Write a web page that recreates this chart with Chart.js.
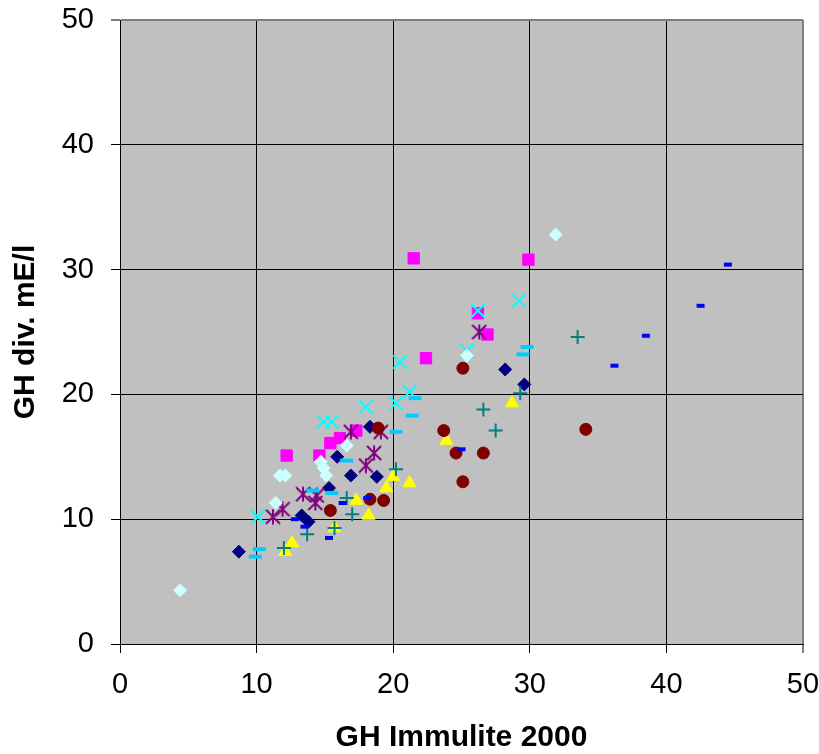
<!DOCTYPE html>
<html>
<head>
<meta charset="utf-8">
<script src="https://cdn.jsdelivr.net/npm/chart.js@4/dist/chart.umd.min.js"></script>
<style>
html, body { margin: 0; padding: 0; background: #fff; }
</style>
</head>
<body>
<canvas id="chart" width="819" height="754"></canvas>
<script>
// axis ticks
const xTicks = [0, 10, 20, 30, 40, 50];
const yTicks = [0, 10, 20, 30, 40, 50];

// one array pair per sample group: Immulite value (x) vs. other assay (y)
const navyX = [8.7, 13.3, 13.8, 15.3, 15.9, 16.9, 18.3, 18.8, 28.2, 29.6];
const navyY = [7.4, 10.3, 9.8, 12.5, 15.0, 13.5, 17.4, 13.4, 22.0, 20.8];

const magentaX = [12.2, 14.6, 15.4, 16.1, 17.3, 21.5, 22.4, 26.2, 26.9, 29.9];
const magentaY = [15.1, 15.1, 16.1, 16.5, 17.1, 30.9, 22.9, 26.5, 24.8, 30.8];

const yellowX = [12.1, 12.6, 15.7, 17.3, 18.2, 19.5, 20.0, 21.2, 23.9, 28.7];
const yellowY = [7.4, 8.1, 9.3, 11.5, 10.3, 12.5, 13.4, 12.9, 16.3, 19.3];

const cyanX = [10.1, 14.9, 15.5, 18.0, 20.2, 20.5, 21.2, 25.4, 26.2, 29.2];
const cyanY = [10.2, 17.8, 17.8, 19.0, 19.3, 22.6, 20.2, 23.5, 26.7, 27.5];

const purpleX = [11.2, 11.9, 13.4, 14.4, 14.3, 16.9, 18.0, 18.6, 19.1, 26.3];
const purpleY = [10.2, 10.8, 12.0, 11.9, 11.3, 17.0, 14.3, 15.3, 17.0, 25.0];

const maroonX = [15.4, 18.3, 19.3, 18.9, 23.7, 24.6, 25.1, 25.1, 26.6, 34.1];
const maroonY = [10.7, 11.6, 11.5, 17.3, 17.1, 15.3, 13.0, 22.1, 15.3, 17.2];

const tealX = [12.0, 13.7, 15.7, 16.6, 17.0, 20.2, 26.6, 27.5, 29.3, 33.5];
const tealY = [7.7, 8.8, 9.3, 11.7, 10.4, 14.0, 18.8, 17.1, 20.1, 24.6];

const blueX = [12.8, 13.5, 15.3, 16.3, 18.1, 25.0, 36.2, 38.5, 42.5, 44.5];
const blueY = [10.0, 9.4, 8.5, 11.3, 11.7, 15.6, 22.3, 24.7, 27.1, 30.4];

const skyX = [9.9, 10.2, 14.1, 15.5, 16.6, 20.2, 21.4, 21.6, 29.5, 29.8];
const skyY = [7.0, 7.6, 12.3, 12.1, 14.7, 17.0, 18.3, 19.7, 23.2, 23.8];

const paleX = [4.4, 11.4, 11.7, 12.1, 14.7, 14.9, 15.1, 16.6, 25.4, 31.9];
const paleY = [4.3, 11.3, 13.5, 13.5, 14.6, 14.1, 13.5, 15.9, 23.1, 32.8];

function pairs(xs, ys) {
  return xs.map((x, i) => ({ x: x, y: ys[i] }));
}

// six-armed asterisk marker (X plus a vertical bar)
function asteriskMarker(color, size, lw) {
  const c = document.createElement('canvas');
  c.width = size;
  c.height = size;
  const g = c.getContext('2d');
  const m = size / 2, r = size / 2 - 1;
  g.strokeStyle = color;
  g.lineWidth = lw;
  g.beginPath();
  g.moveTo(m - r, m - r); g.lineTo(m + r, m + r);
  g.moveTo(m + r, m - r); g.lineTo(m - r, m + r);
  g.moveTo(m, m - r - 0.5); g.lineTo(m, m + r + 0.5);
  g.stroke();
  return c;
}

function series(xs, ys, color, style, radius, bw, fill) {
  return {
    data: pairs(xs, ys),
    pointStyle: style,
    pointRadius: radius,
    pointHoverRadius: radius,
    pointBorderWidth: bw,
    pointBorderColor: color,
    pointBackgroundColor: fill ? color : 'rgba(0,0,0,0)',
    showLine: false
  };
}

const datasets = [
  series(navyX, navyY, '#000080', 'rectRot', 6.5, 1, true),
  series(magentaX, magentaY, '#ff00ff', 'rect', 8, 1, true),
  series(yellowX, yellowY, '#ffff00', 'triangle', 7.5, 1, true),
  series(cyanX, cyanY, '#00ffff', 'crossRot', 9.5, 2, false),
  series(purpleX, purpleY, '#800080', asteriskMarker('#800080', 16, 2), 7, 0, false),
  series(maroonX, maroonY, '#800000', 'circle', 6, 1, true),
  series(tealX, tealY, '#008080', 'cross', 7, 2, false),
  series(blueX, blueY, '#0000ff', 'line', 4, 4, false),
  series(skyX, skyY, '#00ccff', 'line', 6.5, 4, false),
  series(paleX, paleY, '#ccffff', 'rectRot', 6.5, 1, true)
];
// later groups are painted over earlier ones
datasets.forEach((d, i) => { d.order = datasets.length - i; });

// grey plot area
const plotBg = {
  id: 'plotBg',
  beforeDraw(chart) {
    const { ctx, chartArea: a } = chart;
    ctx.save();
    ctx.fillStyle = '#c0c0c0';
    ctx.fillRect(a.left, a.top, a.right - a.left, a.bottom - a.top);
    ctx.restore();
  }
};

const tickFont = { family: 'Arial, "Liberation Sans", sans-serif', size: 29 };
const titleFont = { family: 'Arial, "Liberation Sans", sans-serif', size: 30, weight: 'bold', lineHeight: 1 };

function gridColor(ctx) {
  return ctx.tick && ctx.tick.value === 50 ? '#808080' : '#000000';
}
function gridWidth(ctx) {
  return ctx.tick && ctx.tick.value === 50 ? 2 : 1;
}

// fixed axis boxes; label overhang is covered by layout padding
function fixX(s) {
  s.height = 110;
  s.paddingLeft = 0;
  s.paddingRight = 0;
}
function fixY(s) {
  s.width = 120;
  s.paddingTop = 0;
  s.paddingBottom = 0;
}

new Chart(document.getElementById('chart'), {
  type: 'scatter',
  data: { datasets: datasets },
  plugins: [plotBg],
  options: {
    responsive: false,
    animation: false,
    events: [],
    layout: { padding: { top: 20, right: 16, left: 0, bottom: 0 } },
    plugins: {
      legend: { display: false },
      tooltip: { enabled: false }
    },
    scales: {
      x: {
        type: 'linear',
        min: 0,
        max: 50,
        afterBuildTicks: s => { s.ticks = xTicks.map(v => ({ value: v })); },
        afterFit: fixX,
        grid: { color: gridColor, lineWidth: gridWidth, tickLength: 9, tickColor: '#000', tickWidth: 1 },
        border: { color: '#000', width: 1 },
        ticks: { color: '#000', font: tickFont, padding: 15, maxRotation: 0, autoSkip: false },
        title: { display: true, text: 'GH Immulite 2000', color: '#000', font: titleFont, padding: { top: 0, bottom: 1 } }
      },
      y: {
        type: 'linear',
        min: 0,
        max: 50,
        afterBuildTicks: s => { s.ticks = yTicks.map(v => ({ value: v })); },
        afterFit: fixY,
        grid: { color: gridColor, lineWidth: gridWidth, tickLength: 9, tickColor: '#000', tickWidth: 1 },
        border: { color: '#000', width: 1 },
        ticks: { color: '#000', font: tickFont, padding: 17, autoSkip: false },
        title: { display: true, text: 'GH div. mE/l', color: '#000', font: titleFont, padding: { top: 11, bottom: 0 } }
      }
    }
  }
});
</script>
</body>
</html>
